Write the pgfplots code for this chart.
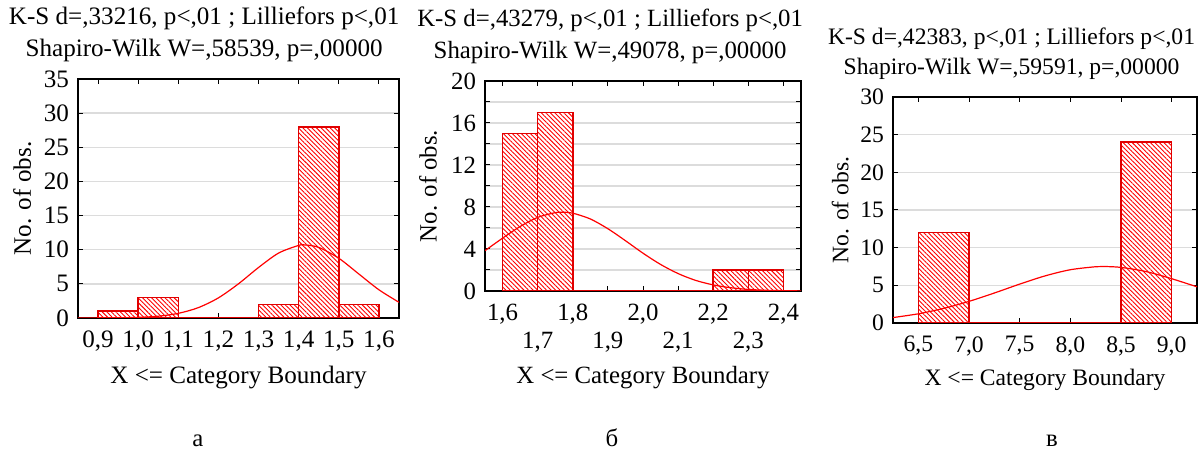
\documentclass[border=0pt]{standalone}
\usepackage{fontspec}
\setmainfont{Liberation Serif}
\usepackage{pgfplots}
\pgfplotsset{compat=1.18}
\usetikzlibrary{patterns.meta}
\definecolor{barred}{HTML}{E00000}
\definecolor{curvered}{HTML}{FF0000}
\definecolor{gridgray}{HTML}{DCDCDC}

\pgfplotsset{
  histo/.style={
    scale only axis,
    axis line style={black, line width=0.6pt},
    tick style={black, line width=0.5pt},
    major tick length=2.5pt, minor tick length=2.5pt,
    tick align=inside,
    ymajorgrids,
    major grid style={gridgray, line width=0.7pt},
    minor grid style={gridgray, line width=0.7pt},
    /pgf/number format/assume math mode=true,
    xticklabel style={anchor=center, yshift=-11.5pt},
    yticklabel style={xshift=-1pt},
    title style={align=center, anchor=south, inner sep=0pt, yshift=2.5pt},
    xlabel style={at={(axis description cs:0.5,0)}, anchor=center},
    ylabel style={anchor=center},
    xlabel={X <= Category Boundary},
    ylabel={No. of obs.},
    ymin=0,
  },
  bars/.style={ybar interval, draw=barred, line width=0.8pt,
    preaction={fill=white},
    pattern={Lines[angle=-45, distance=1.6pt, line width=0.45pt]},
    pattern color=curvered},
  normal/.style={curvered, line width=0.6pt, smooth, no marks},
}

\begin{document}
\begin{tikzpicture}[font=\fontsize{12.4}{15.5}\selectfont]
\path[use as bounding box] (0,0) rectangle (600pt,227pt);

% panel a
\begin{axis}[histo, at={(39pt,68pt)}, width=160.5pt, height=119.5pt,
  font=\fontsize{12.55}{16}\selectfont,
  xmin=0.85, xmax=1.65, ymax=35,
  xtick={0.9,1.0,1.1,1.2,1.3,1.4,1.5,1.6},
  xticklabels={{0,9},{1,0},{1,1},{1,2},{1,3},{1,4},{1,5},{1,6}},
  ytick={0,5,10,15,20,25,30,35},
  title={K-S d=,33216, p<,01 ; Lilliefors p<,01\\Shapiro-Wilk W=,58539, p=,00000},
  title style={at={(axis description cs:0.393,1)}},
  xlabel style={yshift=-30pt},
  ylabel style={at={(axis description cs:-0.174,0.5)}},
]
\addplot[bars] coordinates {
  (0.9,1) (1.0,3) (1.1,0) (1.2,0) (1.3,2) (1.4,28) (1.5,2) (1.6,2)
};
\addplot[normal] coordinates {
  (0.85,0.00) (0.90,0.01) (0.95,0.03) (1.00,0.09) (1.05,0.26) (1.10,0.68)
  (1.15,1.52) (1.20,2.95) (1.25,5.01) (1.30,7.40) (1.35,9.51) (1.40,10.63)
  (1.415,10.70) (1.45,10.34) (1.50,8.75) (1.55,6.44) (1.60,4.13) (1.65,2.30)
};
\end{axis}

% panel b
\begin{axis}[histo, at={(242.5pt,81.5pt)}, width=158pt, height=105pt,
  font=\fontsize{12.4}{16}\selectfont,
  xmin=1.55, xmax=2.45, ymax=20,
  xtick={1.6,1.8,2.0,2.2,2.4},
  xticklabels={{1,6},{1,8},{2,0},{2,2},{2,4}},
  extra x ticks={1.7,1.9,2.1,2.3},
  extra x tick labels={{1,7},{1,9},{2,1},{2,3}},
  extra x tick style={xticklabel style={yshift=-14pt}},
  ytick={0,4,8,12,16,20},
  minor ytick={2,6,10,14,18},
  yminorgrids,
  title={K-S d=,43279, p<,01 ; Lilliefors p<,01\\Shapiro-Wilk W=,49078, p=,00000},
  title style={at={(axis description cs:0.396,1)}},
  xlabel style={yshift=-43.5pt},
  ylabel style={at={(axis description cs:-0.18,0.5)}},
]
\addplot[bars] coordinates {
  (1.6,15) (1.7,17) (1.8,0) (1.9,0) (2.0,0) (2.1,0) (2.2,2) (2.3,2) (2.4,2)
};
\addplot[normal] coordinates {
  (1.55,3.84) (1.60,5.03) (1.65,6.14) (1.70,7.01) (1.75,7.46) (1.77,7.50)
  (1.80,7.41) (1.85,6.86) (1.90,5.93) (1.95,4.79) (2.00,3.60) (2.05,2.53)
  (2.10,1.66) (2.15,1.01) (2.20,0.58) (2.25,0.31) (2.30,0.15) (2.35,0.07)
  (2.40,0.03) (2.45,0.01)
};
\end{axis}

% panel c
\begin{axis}[histo, at={(446.5pt,65.5pt)}, width=152pt, height=113pt,
  font=\fontsize{11.8}{15}\selectfont,
  xmin=6.25, xmax=9.25, ymax=30,
  xtick={6.5,7.0,7.5,8.0,8.5,9.0},
  xticklabels={{6,5},{7,0},{7,5},{8,0},{8,5},{9,0}},
  ytick={0,5,10,15,20,25,30},
  title={K-S d=,42383, p<,01 ; Lilliefors p<,01\\Shapiro-Wilk W=,59591, p=,00000},
  title style={at={(axis description cs:0.39,1)}},
  xlabel style={yshift=-28.5pt},
  ylabel style={at={(axis description cs:-0.174,0.5)}},
]
\addplot[bars] coordinates {
  (6.5,12) (7.0,0) (7.5,0) (8.0,0) (8.5,24) (9.0,24)
};
\addplot[normal] coordinates {
  (6.25,0.72) (6.50,1.22) (6.75,1.94) (7.00,2.87) (7.25,3.98) (7.50,5.16)
  (7.75,6.25) (8.00,7.07) (8.25,7.47) (8.33,7.50) (8.50,7.38) (8.75,6.82)
  (9.00,5.88) (9.25,4.80)
};
\end{axis}

\node[anchor=base] at (99pt,3.5pt) {а};
\node[anchor=base] at (306pt,3.5pt) {б};
\node[anchor=base] at (526pt,3.5pt) {в};
\end{tikzpicture}
\end{document}
